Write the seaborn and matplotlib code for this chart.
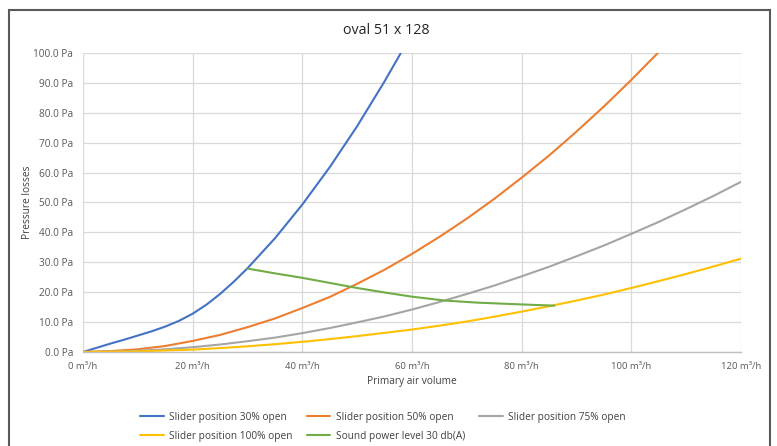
import numpy as np
import pandas as pd
import seaborn as sns
import matplotlib.pyplot as plt
from matplotlib.patches import Rectangle
from matplotlib.lines import Line2D

# values (m3/h -> Pa)
x_30 = [0, 2.5, 5, 7.5, 10, 12.5, 15, 17.5, 20, 22.5, 25, 27.5, 30,
        35, 40, 45, 50, 55, 60]
y_30 = [0, 1.4, 2.8, 4.1, 5.5, 6.9, 8.5, 10.4, 12.8, 15.8, 19.4, 23.5, 28.0,
        38.0, 49.3, 61.8, 75.5, 90.5, 106.5]

x_50 = [0, 5, 10, 15, 20, 25, 30, 35, 40, 45, 50, 55, 60, 65, 70, 75, 80,
        85, 90, 95, 100, 105, 110]
y_50 = [0, 0.3, 0.9, 2.0, 3.7, 5.7, 8.3, 11.2, 14.7, 18.4, 22.8, 27.5, 32.8,
        38.5, 44.6, 51.2, 58.3, 65.7, 73.7, 82.1, 91.0, 100.3, 110.0]

x_75 = [0, 5, 10, 15, 20, 25, 30, 35, 40, 45, 50, 55, 60, 65, 70, 75, 80,
        85, 90, 95, 100, 105, 110, 115, 120]
y_75 = [0, 0.1, 0.4, 0.9, 1.6, 2.5, 3.6, 4.8, 6.3, 8.0, 9.9, 11.9, 14.2,
        16.7, 19.4, 22.2, 25.3, 28.5, 32.0, 35.6, 39.5, 43.5, 47.8, 52.2, 56.9]

x_100 = [0, 5, 10, 15, 20, 25, 30, 35, 40, 45, 50, 55, 60, 65, 70, 75, 80,
         85, 90, 95, 100, 105, 110, 115, 120]
y_100 = [0, 0.1, 0.2, 0.5, 0.8, 1.3, 1.9, 2.6, 3.4, 4.3, 5.3, 6.4, 7.5,
         8.8, 10.2, 11.8, 13.5, 15.3, 17.2, 19.2, 21.4, 23.7, 26.1, 28.6, 31.2]

x_snd = [30, 35, 40, 45, 50, 55, 60, 66, 72, 80, 86]
y_snd = [27.9, 26.3, 24.8, 23.1, 21.4, 19.9, 18.5, 17.2, 16.5, 15.9, 15.5]

series_names = ["Slider position 30% open", "Slider position 50% open",
                "Slider position 75% open", "Slider position 100% open",
                "Sound power level 30 db(A)"]
colors = ["#4472C4", "#ED7D31", "#A5A5A5", "#FFC000", "#70AD47"]

x_ticks = [0, 20, 40, 60, 80, 100, 120]
y_ticks = [0, 10, 20, 30, 40, 50, 60, 70, 80, 90, 100]

frames = []
for name, xs, ys in zip(series_names,
                        [x_30, x_50, x_75, x_100, x_snd],
                        [y_30, y_50, y_75, y_100, y_snd]):
    frames.append(pd.DataFrame({"volume": xs, "pressure": ys, "series": name}))
df = pd.concat(frames, ignore_index=True)

sns.set_theme(style="white")
plt.rcParams['font.family'] = ['Open Sans', 'DejaVu Sans']

fig = plt.figure(figsize=(7.77, 4.46), dpi=100)
ax = fig.add_axes([0.1068, 0.2108, 0.8468, 0.6704])

sns.lineplot(data=df, x="volume", y="pressure", hue="series",
             hue_order=series_names, palette=colors, linewidth=1.5,
             legend=False, ax=ax, estimator=None, sort=False)

ax.set_xlim(0, 120)
ax.set_ylim(0, 100)
ax.set_xticks(x_ticks)
ax.set_xticklabels([f"{v} m³/h" for v in x_ticks])
ax.set_yticks(y_ticks)
ax.set_yticklabels([f"{v:.1f} Pa" for v in y_ticks])
ax.tick_params(axis="both", length=0, colors="#595959")
ax.tick_params(axis="x", pad=7, labelsize=6.8)
ax.tick_params(axis="y", pad=7, labelsize=7.2)
ax.grid(True, color="#d9d9d9", linewidth=0.9)
ax.set_axisbelow(True)
for s in ["top", "right", "left"]:
    ax.spines[s].set_visible(False)
ax.spines["bottom"].set_color("#bfbfbf")
ax.spines["bottom"].set_linewidth(1.0)

ax.set_xlabel("Primary air volume", fontsize=7.3, color="#404040", labelpad=4)
ax.set_ylabel("Pressure losses", fontsize=7.3, color="#404040")
ax.yaxis.label.set_verticalalignment("center")
ax.yaxis.set_label_coords(-0.085, 0.5)
fig.text(0.497, 0.932, "oval 51 x 128", ha="center", va="center",
         fontsize=10.3, color="#262626")

handles = [Line2D([], [], color=c, linewidth=1.5) for c in colors]
order = [0, 3, 1, 4, 2]
leg = fig.legend([handles[i] for i in order], [series_names[i] for i in order],
                 ncol=3, loc="upper left", bbox_to_anchor=(0.174, 0.088),
                 frameon=False, fontsize=7.3, handlelength=2.3,
                 handletextpad=0.55, columnspacing=1.4, labelspacing=0.8,
                 borderpad=0)
for t in leg.get_texts():
    t.set_color("#404040")

fig.patches.append(Rectangle((0.0116, -0.05), 0.98, 1.027,
                             transform=fig.transFigure, fill=False,
                             edgecolor="#595959", linewidth=1.5))

fig.savefig("out.png", dpi=100)
